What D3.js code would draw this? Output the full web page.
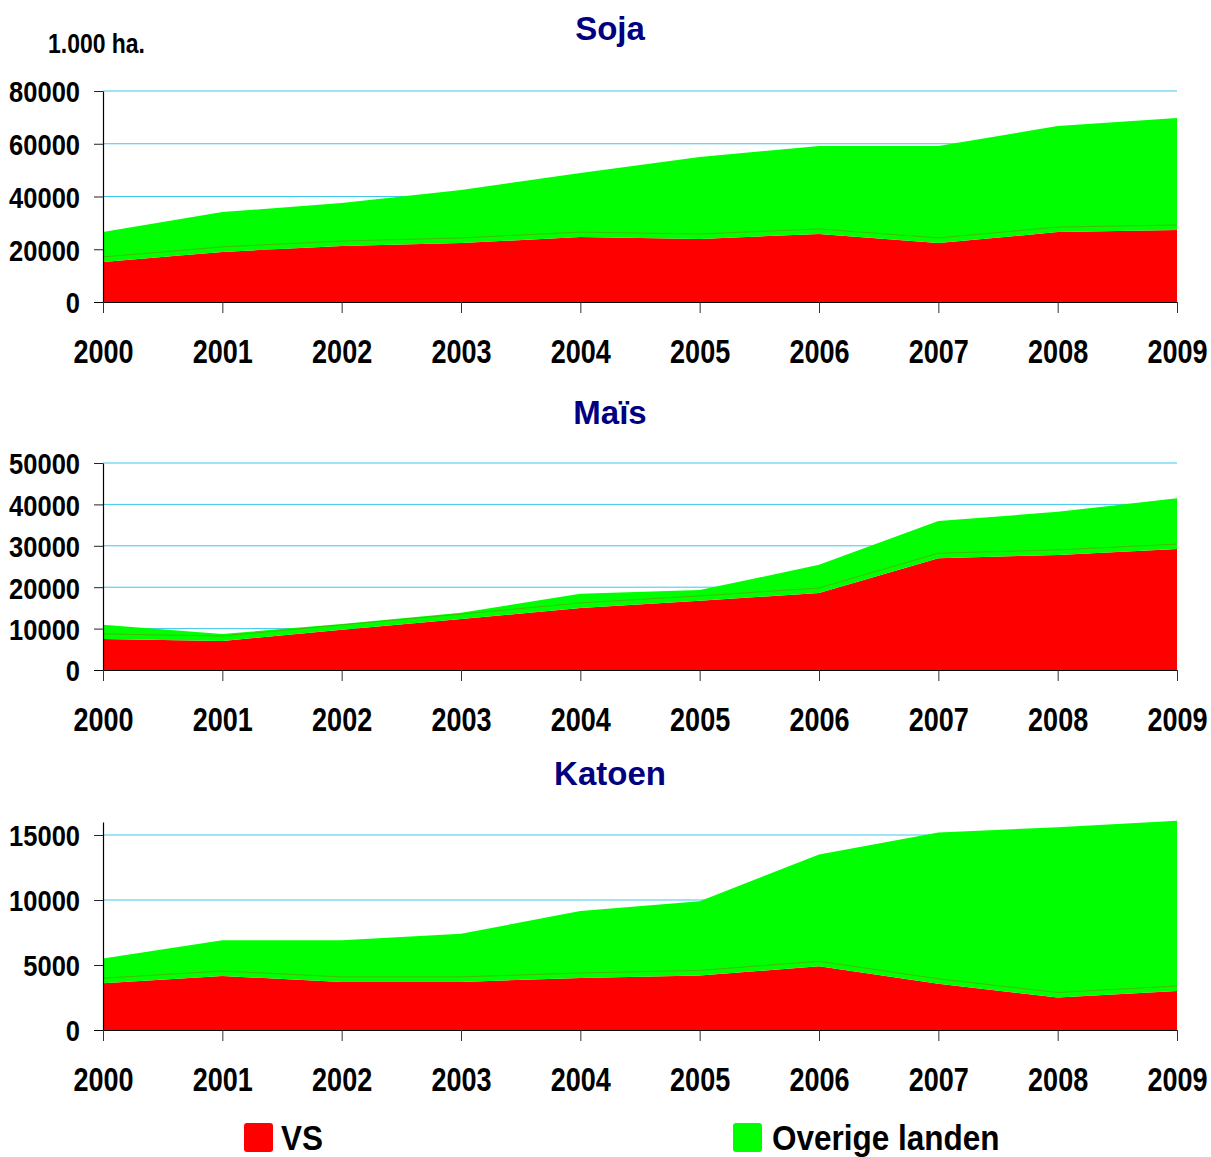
<!DOCTYPE html>
<html>
<head>
<meta charset="utf-8">
<script src="https://cdn.jsdelivr.net/npm/d3@7/dist/d3.min.js"></script>
<style>
  html, body { margin: 0; padding: 0; background: #fff; }
  svg { display: block; }
  .narrow { font-family: "Liberation Sans", Arial, sans-serif; font-weight: bold; }
  .title { font-family: "Liberation Sans", Arial, sans-serif; font-weight: bold; fill: #000080; }
</style>
</head>
<body>
<svg id="chart" width="1211" height="1157"></svg>
<script>
// ---- data (1.000 ha) ----
const years = [2000, 2001, 2002, 2003, 2004, 2005, 2006, 2007, 2008, 2009];
const seriesNames = ["VS", "Overige landen"];

const sojaVS      = [15200, 19000, 21200, 22400, 24600, 23900, 25800, 22400, 26500, 27300];
const sojaOverige = [11300, 15100, 16300, 20100, 24300, 31100, 33300, 36700, 40200, 42500];
const sojaTicks   = [0, 20000, 40000, 60000, 80000];

const maisVS      = [7500, 7000, 9700, 12300, 15000, 16700, 18600, 27000, 27800, 29200];
const maisOverige = [3400, 1700, 1400, 1500, 3400, 2600, 6800, 9000, 10400, 12300];
const maisTicks   = [0, 10000, 20000, 30000, 40000, 50000];

const katoenVS      = [3600, 4150, 3700, 3700, 4000, 4200, 4900, 3550, 2500, 3000];
const katoenOverige = [1900, 2750, 3200, 3700, 5150, 5700, 8600, 11650, 13100, 13100];
const katoenTicks   = [0, 5000, 10000, 15000];

const titles = ["Soja", "Maïs", "Katoen"];
const unitLabel = "1.000 ha.";

// ---- layout ----
const svg = d3.select("#chart");
const xLeft = 103, xRight = 1177;
const colors = { "VS": "#ff0000", "Overige landen": "#00ff00" };
const SX = 0.82; // horizontal condensing to mimic a narrow bold face

const panels = [
  { title: titles[0], vs: sojaVS, ov: sojaOverige, ticks: sojaTicks, max: 80000, yTop: 91,  y0: 302,  titleY: 40 },
  { title: titles[1], vs: maisVS, ov: maisOverige, ticks: maisTicks, max: 50000, yTop: 463, y0: 670,  titleY: 424 },
  { title: titles[2], vs: katoenVS, ov: katoenOverige, ticks: katoenTicks, max: 16000, yTop: 822, y0: 1030, titleY: 785 }
];

const x = d3.scaleLinear().domain([years[0], years[years.length - 1]]).range([xLeft, xRight]);

panels.forEach(p => {
  const g = svg.append("g");
  const y = d3.scaleLinear().domain([0, p.max]).range([p.y0, p.yTop]);

  const rows = years.map((yr, i) => ({ year: yr, "VS": p.vs[i], "Overige landen": p.ov[i] }));
  const stack = d3.stack().keys(seriesNames)(rows);

  // gridlines (behind areas)
  g.append("g").selectAll("line")
    .data(p.ticks.filter(t => t > 0))
    .join("line")
    .attr("x1", xLeft).attr("x2", xRight)
    .attr("y1", d => y(d)).attr("y2", d => y(d))
    .attr("stroke", "#3cc6ee").attr("stroke-width", 1);

  const area = d3.area()
    .x(d => x(d.data.year))
    .y0(d => y(d[0]))
    .y1(d => y(d[1]));

  g.append("g").selectAll("path")
    .data(stack)
    .join("path")
    .attr("d", area)
    .attr("fill", d => colors[d.key]);

  // faint edge line above VS boundary
  const edge = d3.line().x(d => x(d.data.year)).y(d => y(d[1]) - 5);
  g.append("path")
    .datum(stack[0])
    .attr("d", edge)
    .attr("fill", "none")
    .attr("stroke", "#c03a10")
    .attr("stroke-opacity", 0.35)
    .attr("stroke-width", 1);

  // y axis
  const yAxis = g.append("g")
    .attr("transform", `translate(${xLeft},0)`)
    .call(d3.axisLeft(y).tickValues(p.ticks).tickSize(9).tickSizeOuter(0).tickFormat(d3.format("d")));
  yAxis.select(".domain").attr("stroke", "#000").attr("stroke-width", 1.2);
  yAxis.selectAll(".tick line").attr("stroke", "#222");
  yAxis.selectAll(".tick text")
    .attr("class", "narrow")
    .attr("x", 0)
    .attr("dy", "0.36em")
    .attr("transform", `translate(-23,0) scale(0.85,1)`)
    .style("font-size", "30px")
    .attr("fill", "#000");

  // x axis
  const xAxis = g.append("g")
    .attr("transform", `translate(0,${p.y0})`)
    .call(d3.axisBottom(x).tickValues(years).tickSize(11).tickSizeOuter(0).tickFormat(d3.format("d")));
  xAxis.select(".domain").attr("stroke", "#000").attr("stroke-width", 1.2)
    .attr("d", `M${xLeft - 9},0.5H${xRight}`);
  xAxis.selectAll(".tick line").attr("stroke", "#333");
  xAxis.selectAll(".tick text")
    .attr("class", "narrow")
    .attr("y", 61)
    .attr("dy", 0)
    .attr("transform", `scale(${SX},1)`)
    .style("font-size", "33px")
    .attr("fill", "#000");

  // title
  svg.append("text")
    .attr("class", "title")
    .attr("x", 610).attr("y", p.titleY)
    .attr("text-anchor", "middle")
    .style("font-size", "33px")
    .text(p.title);
});

// unit label
svg.append("text")
  .attr("class", "narrow")
  .attr("transform", `translate(48,53) scale(${SX},1)`)
  .style("font-size", "28px")
  .attr("fill", "#000")
  .text(unitLabel);

// legend
const legendPos = [{ sx: 244, tx: 281 }, { sx: 733, tx: 772 }];
const legend = svg.append("g").selectAll("g")
  .data(seriesNames)
  .join("g");
legend.append("rect")
  .attr("x", (d, i) => legendPos[i].sx)
  .attr("y", 1123)
  .attr("width", 29).attr("height", 29)
  .attr("rx", 3)
  .attr("fill", d => colors[d]);
legend.append("text")
  .attr("class", "narrow")
  .attr("transform", (d, i) => `translate(${legendPos[i].tx},1150) scale(0.9,1)`)
  .style("font-size", "35px")
  .attr("fill", "#000")
  .text(d => d);
</script>
</body>
</html>
